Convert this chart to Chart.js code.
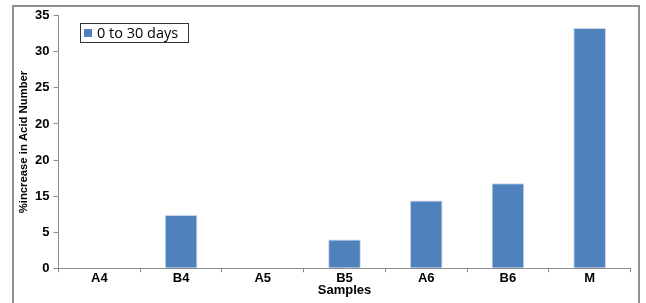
<!DOCTYPE html>
<html>
<head>
<meta charset="utf-8">
<script src="https://cdn.jsdelivr.net/npm/chart.js@4/dist/chart.umd.min.js"></script>
<style>
	body{ margin:0; background:#fff; }
	#chart{ display:block; }
</style>
</head>
<body>
<canvas id="chart" width="646" height="303"></canvas>
<script>
var samples = ["A4","B4","A5","B5","A6","B6","M"];
var increase = [0, 7.4, 0, 4.0, 9.4, 11.8, 33.3];
var seriesName = "0 to 30 days";
// labels as printed on the original axis
var yTickLabels = ["0","5","15","20","20","25","30","35"];

var blue = "#4F81BD", axisGray = "#8C8C8C";

var frame = {
	id:"frame",
	beforeDraw:function(chart){
		var ctx = chart.ctx;
		ctx.save();
		ctx.fillStyle = "#fff";
		ctx.fillRect(0,0,chart.width,chart.height);
		ctx.strokeStyle = "#909090";
		ctx.lineWidth = 2;
		ctx.beginPath();
		ctx.moveTo(13, 303);
		ctx.lineTo(13, 6);
		ctx.lineTo(639, 6);
		ctx.lineTo(639, 303);
		ctx.stroke();
		ctx.restore();
	}
};

var boxLegend = {
	id:"boxLegend",
	afterDraw:function(chart){
		var ctx = chart.ctx, ds = chart.data.datasets[0];
		ctx.save();
		ctx.strokeStyle = "#333";
		ctx.lineWidth = 1;
		ctx.strokeRect(80.5, 23.5, 108, 19);
		ctx.fillStyle = ds.backgroundColor;
		ctx.fillRect(84, 29, 8, 8);
		ctx.fillStyle = "#000";
		ctx.font = "14.5px 'Open Sans'";
		ctx.textBaseline = "middle";
		ctx.fillText(ds.label, 97, 33.5);
		ctx.restore();
	}
};

new Chart(document.getElementById("chart"),{
	type:"bar",
	data:{
		labels:samples,
		datasets:[{
			label:seriesName,
			data:increase,
			backgroundColor:blue,
			borderColor:"#C6D7EC",
			borderWidth:1,
			barPercentage:0.4,
			categoryPercentage:1
		}]
	},
	options:{
		responsive:false,
		animation:false,
		layout:{ padding:{ left:0, right:15.5, top:15.7, bottom:0 } },
		plugins:{ legend:{ display:false }, tooltip:{ enabled:false } },
		scales:{
			x:{
				afterFit:function(s){ s.height = 34.7; },
				grid:{ offset:true, drawOnChartArea:false, tickLength:4, color:axisGray },
				border:{ color:axisGray, width:1 },
				ticks:{ color:"#000", padding:-2, font:{ family:"'Liberation Sans'", size:13, weight:"bold" } },
				title:{ display:true, text:"Samples", color:"#000", padding:{ top:0, bottom:5 }, font:{ family:"'Liberation Sans'", size:13, weight:"bold" } }
			},
			y:{
				min:0, max:35,
				afterFit:function(s){ s.width = 58.5; },
				grid:{ drawOnChartArea:false, tickLength:5, color:axisGray },
				border:{ color:axisGray, width:1 },
				ticks:{
					stepSize:5, color:"#000", padding:4,
					font:{ family:"'Liberation Sans'", size:13, weight:"bold" },
					callback:function(v, i){ return yTickLabels[i]; }
				},
				title:{ display:true, text:"%increase in Acid Number", color:"#000", padding:{ top:17, bottom:0 }, font:{ family:"'Liberation Sans'", size:11.3, weight:"bold" } }
			}
		}
	},
	plugins:[frame, boxLegend]
});
</script>
</body>
</html>
